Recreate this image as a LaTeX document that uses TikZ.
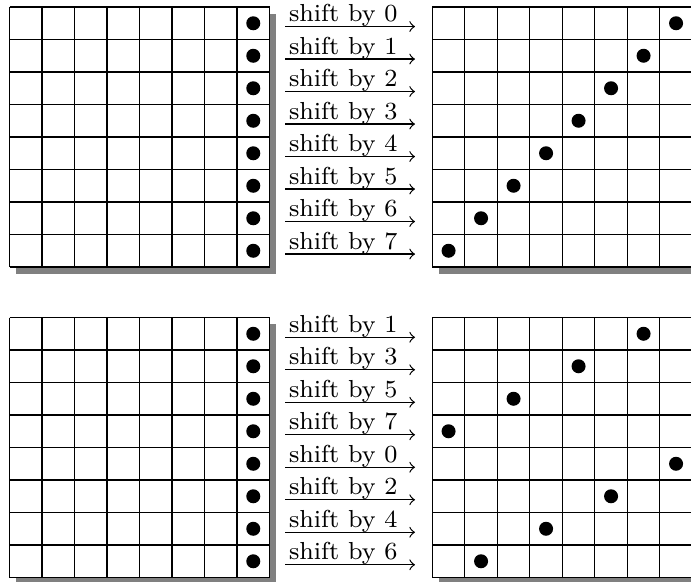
\documentclass[tikz,border=0pt]{standalone}
\begin{document}
\begin{tikzpicture}[x=0.325pt,y=-0.325pt,
  gridline/.style={line width=0.4pt,black},
  shadowbox/.style={fill=gray},
  cellbg/.style={fill=white},
  dotmark/.style={fill=black},
  lbl/.style={font=\footnotesize,anchor=base west,inner sep=0pt},
  arr/.style={->,line width=0.4pt}]
\useasboundingbox (0,0) rectangle (691,581);
\clip (0,0) rectangle (691,581);
% grids
\foreach \gname/\ox/\oy in {TL/9.5/7, TR/432.3/7, BL/9.5/317.5, BR/432.3/317.5}{
  \fill[shadowbox] ({\ox+6.5},{\oy+6.5}) rectangle +(260,260);
  \fill[cellbg] (\ox,\oy) rectangle +(260,260);
  \coordinate (\gname) at (\ox,\oy);
  \foreach \i in {0,...,8}{
    \draw[gridline] ({\ox+\i*32.5},\oy) -- ({\ox+\i*32.5},{\oy+260});
    \draw[gridline] (\ox,{\oy+\i*32.5}) -- ({\ox+260},{\oy+\i*32.5});
  }
}
% dots on left grids
\foreach \oy in {7,317.5}{
  \foreach \r in {0,...,7}{
    \fill[dotmark] ({9.5+7.5*32.5},{\oy+(\r+0.5)*32.5}) circle[radius=7];
  }
}
% top: shifts 0..7
\foreach \r/\s in {0/0,1/1,2/2,3/3,4/4,5/5,6/6,7/7}{
  \fill[dotmark] ({432.3+(7-\s+0.5)*32.5},{7+(\r+0.5)*32.5}) circle[radius=7];
  \coordinate (ta\r) at (285,{7+(\r+0.5)*32.5+3.3});
  \coordinate (tb\r) at (415,{7+(\r+0.5)*32.5+3.3});
  \draw[arr] (ta\r) -- (tb\r);
  \node[lbl] (tl\r) at (288.5,{7+(\r+0.5)*32.5-1.7}) {shift by \s};
}
% bottom: shifts 1,3,5,7,0,2,4,6
\foreach \r/\s in {0/1,1/3,2/5,3/7,4/0,5/2,6/4,7/6}{
  \fill[dotmark] ({432.3+(7-\s+0.5)*32.5},{317.5+(\r+0.5)*32.5}) circle[radius=7];
  \coordinate (ba\r) at (285,{317.5+(\r+0.5)*32.5+3.5});
  \coordinate (bb\r) at (415,{317.5+(\r+0.5)*32.5+3.5});
  \draw[arr] (ba\r) -- (bb\r);
  \node[lbl] (bl\r) at (288.5,{317.5+(\r+0.5)*32.5-1.5}) {shift by \s};
}
\end{tikzpicture}
\end{document}
